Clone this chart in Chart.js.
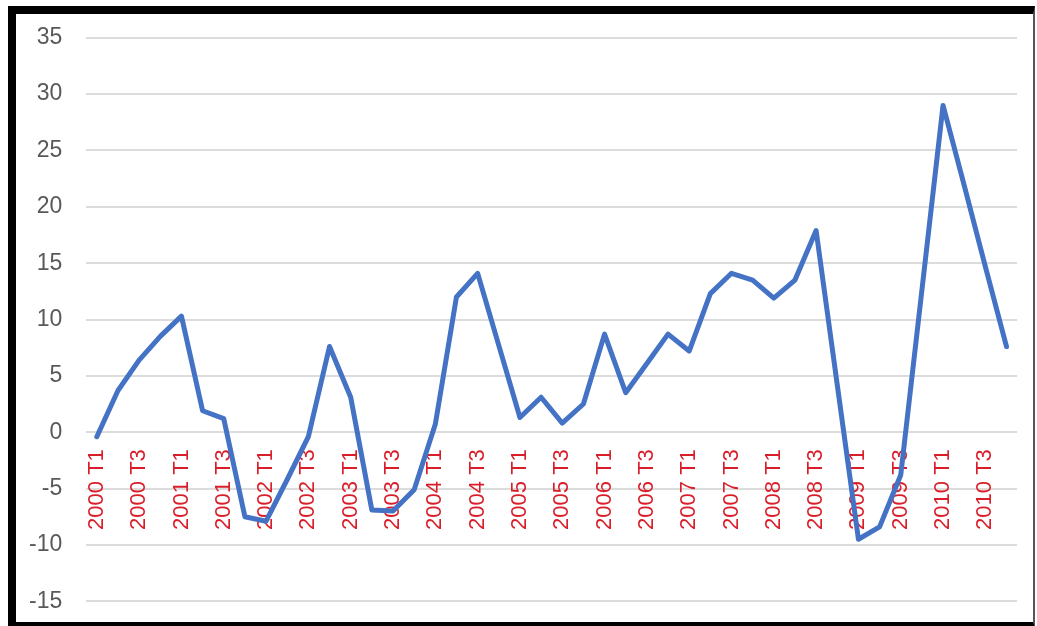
<!DOCTYPE html>
<html>
<head>
<meta charset="utf-8">
<script src="https://cdn.jsdelivr.net/npm/chart.js@4/dist/chart.umd.min.js"></script>
<style>
  html, body { margin: 0; padding: 0; background: #ffffff; }
  #wrap { position: relative; width: 1037px; height: 626px; overflow: hidden; }
  #chart { position: absolute; left: 0; top: 0; }
  #frame {
    position: absolute; left: 8px; top: 6px; width: 1017px; height: 608px;
    border-left: 8px solid #000; border-top: 8px solid #000;
    border-bottom: 6px solid #000; border-right: 2px solid #555;
    pointer-events: none;
  }
</style>
</head>
<body>
<div id="wrap">
  <canvas id="chart" width="1050" height="639"></canvas>
  <div id="frame"></div>
</div>
<script>
// Quarterly periods, 2000 T1 to 2010 T4
const quarters = [
  '2000 T1','2000 T2','2000 T3','2000 T4',
  '2001 T1','2001 T2','2001 T3','2001 T4',
  '2002 T1','2002 T2','2002 T3','2002 T4',
  '2003 T1','2003 T2','2003 T3','2003 T4',
  '2004 T1','2004 T2','2004 T3','2004 T4',
  '2005 T1','2005 T2','2005 T3','2005 T4',
  '2006 T1','2006 T2','2006 T3','2006 T4',
  '2007 T1','2007 T2','2007 T3','2007 T4',
  '2008 T1','2008 T2','2008 T3','2008 T4',
  '2009 T1','2009 T2','2009 T3','2009 T4',
  '2010 T1','2010 T2','2010 T3','2010 T4'
];

// Quarterly growth rate (%)
const growth = [
  -0.4, 3.7, 6.4, 8.5,
  10.3, 1.9, 1.2, -7.5,
  -7.9, -4.2, -0.4, 7.6,
  3.1, -6.9, -7.0, -5.1,
  0.7, 12.0, 14.1, 7.7,
  1.3, 3.1, 0.8, 2.5,
  8.7, 3.5, 6.1, 8.7,
  7.2, 12.3, 14.1, 13.5,
  11.9, 13.5, 17.9, 4.2,
  -9.5, -8.4, -3.8, 12.6,
  29.0, 21.9, 14.7, 7.6
];

// Value axis range
const yMin = -15;
const yMax = 35;
const yStep = 5;

new Chart(document.getElementById('chart'), {
  type: 'line',
  data: {
    labels: quarters,
    datasets: [{
      data: growth,
      borderColor: '#4472C4',
      borderWidth: 5,
      pointRadius: 0,
      tension: 0,
      fill: false,
      borderJoinStyle: 'round',
      borderCapStyle: 'round'
    }]
  },
  options: {
    responsive: false,
    animation: false,
    layout: { padding: { left: 5, right: 8, top: 22, bottom: 1 } },
    plugins: { legend: { display: false }, tooltip: { enabled: false } },
    scales: {
      x: {
        type: 'category',
        offset: true,
        position: { y: 0 },
        grid: { display: false, drawTicks: false },
        border: { display: false },
        ticks: {
          autoSkip: false,
          minRotation: 90,
          maxRotation: 90,
          padding: 17,
          color: '#D91E2A',
          font: { family: 'Liberation Sans', size: 22 },
          callback: function (value, index) {
            return index % 2 === 0 ? this.getLabelForValue(value) : '';
          }
        }
      },
      y: {
        min: yMin,
        max: yMax,
        grid: { color: '#dcdcdc', lineWidth: 2, drawTicks: false },
        border: { display: false },
        ticks: {
          stepSize: yStep,
          padding: 24,
          color: '#595959',
          font: { family: 'Liberation Sans', size: 23 }
        }
      }
    }
  }
});
</script>
</body>
</html>
